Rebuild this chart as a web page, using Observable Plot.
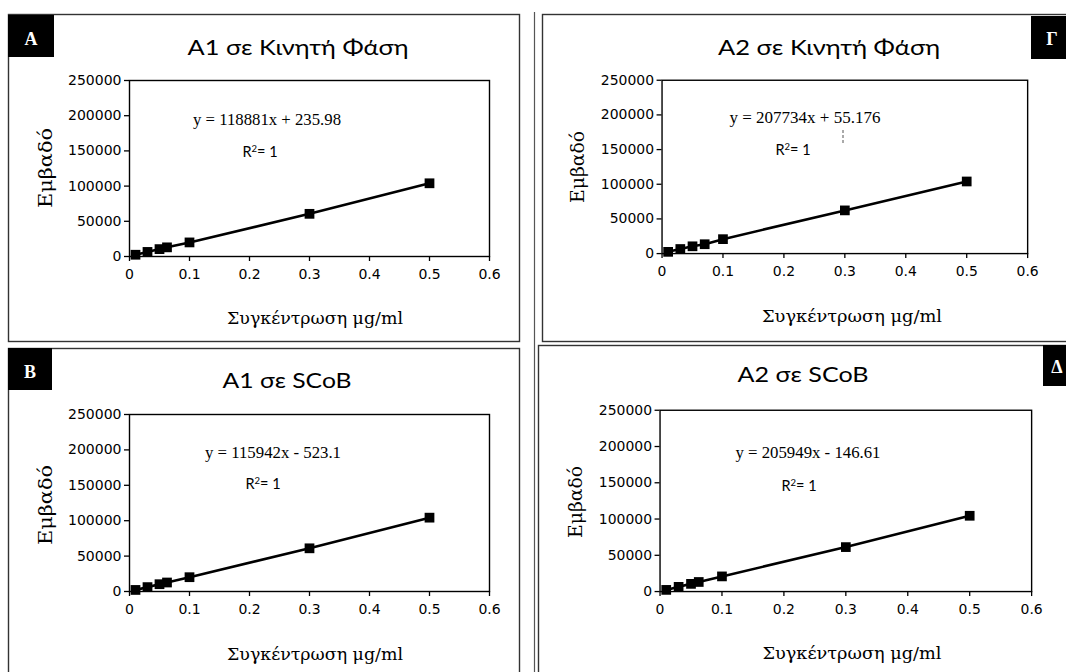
<!DOCTYPE html>
<html>
<head>
<meta charset="utf-8">
<script src="https://cdn.jsdelivr.net/npm/d3@7"></script>
<script src="https://cdn.jsdelivr.net/npm/@observablehq/plot@0.6"></script>
<style>
  html, body { margin: 0; padding: 0; background: #fff; }
  #page { position: relative; width: 1066px; height: 672px; overflow: hidden; background: #fff; }
  .plotwrap { position: absolute; }
  .plotwrap svg { overflow: visible; }
  #overlay { position: absolute; left: 0; top: 0; pointer-events: none; }
</style>
</head>
<body>
<div id="page"></div>
<script>
// ---------------- data ----------------
const concA1 = [0.01, 0.03, 0.05, 0.0625, 0.1, 0.3, 0.5];
const concA2Kin = [0.01, 0.03, 0.05, 0.07, 0.1, 0.3, 0.5];
const concA2SCoB = [0.01, 0.03, 0.05, 0.0625, 0.1, 0.3, 0.5];

const areaA1Kin  = [2500, 6500, 10500, 13000, 20000, 60600, 104000];
const areaA2Kin  = [2500, 6600, 10500, 13500, 20800, 62300, 104000];
const areaA1SCoB = [2200, 6200, 10300, 12700, 20200, 61000, 104300];
const areaA2SCoB = [2300, 6500, 10600, 13200, 20900, 61300, 104500];

const xTicks = [0, 0.1, 0.2, 0.3, 0.4, 0.5, 0.6];
const yTicks = [0, 50000, 100000, 150000, 200000, 250000];

const titles = ["A1 σε Κινητή Φάση", "A2 σε Κινητή Φάση", "A1 σε SCoB", "A2 σε SCoB"];
const letters = ["A", "Γ", "B", "Δ"];
const equations = ["y = 118881x + 235.98", "y = 207734x + 55.176", "y = 115942x - 523.1", "y = 205949x - 146.61"];
const xTitle = "Συγκέντρωση μg/ml";
const yTitle = "Εμβαδό";

// ---------------- layout (pixels) ----------------
const layout = [
  { box: [8, 14, 520, 342],  plot: [129, 80, 489, 256],
    title: [298, 55, 221], letterBox: [8, 15, 54, 57], letterPos: [31, 45],
    eq: [267, 125, 148], r2: [260, 157], xt: [315, 324, 176], yt: [52, 168, 80] },
  { box: [542, 14, 1068, 342], plot: [662, 80, 1029, 254],
    title: [829, 55, 222], letterBox: [1031, 16, 1068, 59], letterPos: [1052, 45],
    eq: [805, 123, 151], r2: [793, 155], xt: [852, 322, 180], yt: [584, 167, 72] },
  { box: [8, 348, 520, 674],  plot: [129, 414, 489, 591],
    title: [287, 388, 129], letterBox: [8, 348, 52, 390], letterPos: [30, 378],
    eq: [273, 458, 136], r2: [263, 489], xt: [315, 660, 176], yt: [52, 505, 80] },
  { box: [538, 345, 1068, 674], plot: [660, 410, 1033, 592],
    title: [803, 382, 131], letterBox: [1043, 345, 1068, 386], letterPos: [1057, 373],
    eq: [808, 458, 145], r2: [799, 491], xt: [852, 659, 179], yt: [582, 502, 72] }
];

const series = [
  { x: concA1, y: areaA1Kin },
  { x: concA2Kin, y: areaA2Kin },
  { x: concA1, y: areaA1SCoB },
  { x: concA2SCoB, y: areaA2SCoB }
];

const page = document.getElementById("page");
const fmt = d => String(d);
const tickFont = "'DejaVu Sans', sans-serif";
const serifGreek = "'DejaVu Serif', serif";

series.forEach((s, i) => {
  const L = layout[i];
  const [bx0, by0, bx1, by1] = L.box;
  const [px0, py0, px1, py1] = L.plot;
  const data = s.x.map((x, k) => ({ x, y: s.y[k] }));
  const chart = Plot.plot({
    width: bx1 - bx0,
    height: by1 - by0,
    marginLeft: px0 - bx0,
    marginRight: bx1 - px1,
    marginTop: py0 - by0,
    marginBottom: by1 - py1,
    style: { fontFamily: tickFont, fontSize: "14px", color: "#000", background: "transparent", overflow: "visible" },
    x: { domain: [0, 0.6] },
    y: { domain: [0, 250000] },
    marks: [
      Plot.axisX({ ticks: xTicks, tickFormat: fmt, tickSize: 5, tickPadding: 8, label: null,
        stroke: "#000", strokeWidth: 1.3, fontSize: 14, fontFamily: tickFont, fill: "#000" }),
      Plot.axisY({ ticks: yTicks, tickFormat: fmt, tickSize: 5, tickPadding: 3, label: null,
        stroke: "#000", strokeWidth: 1.3, fontSize: 14, fontFamily: tickFont, fill: "#000" }),
      Plot.frame({ stroke: "#000", strokeWidth: 1.4 }),
      Plot.line(data, { x: "x", y: "y", stroke: "#000", strokeWidth: 2.6 }),
      Plot.dot(data, { x: "x", y: "y", symbol: "square", r: 5.5, fill: "#000", stroke: "none" })
    ]
  });
  const wrap = document.createElement("div");
  wrap.className = "plotwrap";
  wrap.style.left = bx0 + "px";
  wrap.style.top = by0 + "px";
  wrap.appendChild(chart);
  page.appendChild(wrap);
});

// ---------------- overlay: panel frames, titles, labels, annotations ----------------
const svg = d3.create("svg")
  .attr("id", "overlay")
  .attr("width", 1066).attr("height", 672)
  .attr("viewBox", "0 0 1066 672");

svg.append("line").attr("x1", 534.5).attr("x2", 534.5).attr("y1", 12).attr("y2", 672)
  .attr("stroke", "#555").attr("stroke-width", 1.2);

layout.forEach((L, i) => {
  const [bx0, by0, bx1, by1] = L.box;
  svg.append("rect")
    .attr("x", bx0 + 0.5).attr("y", by0 + 0.5)
    .attr("width", bx1 - bx0 - 1).attr("height", by1 - by0 - 1)
    .attr("fill", "none").attr("stroke", "#333").attr("stroke-width", 1.4);

  const [lx0, ly0, lx1, ly1] = L.letterBox;
  svg.append("rect").attr("x", lx0).attr("y", ly0).attr("width", lx1 - lx0).attr("height", ly1 - ly0).attr("fill", "#000");
  svg.append("text").attr("x", L.letterPos[0]).attr("y", L.letterPos[1])
    .attr("text-anchor", "middle").attr("fill", "#fff")
    .attr("font-family", "'Liberation Serif', 'DejaVu Serif', serif").attr("font-weight", "bold").attr("font-size", 18)
    .text(letters[i]);

  svg.append("text").attr("x", L.title[0]).attr("y", L.title[1])
    .attr("text-anchor", "middle").attr("fill", "#000")
    .attr("font-family", "Lato, sans-serif").attr("font-size", 21)
    .attr("textLength", L.title[2]).attr("lengthAdjust", "spacingAndGlyphs")
    .text(titles[i]);

  svg.append("text").attr("x", L.eq[0]).attr("y", L.eq[1])
    .attr("text-anchor", "middle").attr("fill", "#000")
    .attr("font-family", "'Liberation Serif', serif").attr("font-size", 16.5)
    .attr("textLength", L.eq[2]).attr("lengthAdjust", "spacingAndGlyphs")
    .text(equations[i]);

  const r2 = svg.append("text").attr("x", L.r2[0]).attr("y", L.r2[1])
    .attr("text-anchor", "middle").attr("fill", "#000")
    .attr("font-family", "Lato, sans-serif").attr("font-size", 14.5);
  r2.append("tspan").text("R");
  r2.append("tspan").attr("font-size", 9.5).attr("dy", -5).text("2");
  r2.append("tspan").attr("dy", 5).text("= 1");

  svg.append("text").attr("x", L.xt[0]).attr("y", L.xt[1])
    .attr("text-anchor", "middle").attr("fill", "#000")
    .attr("font-family", serifGreek).attr("font-size", 17)
    .attr("textLength", L.xt[2]).attr("lengthAdjust", "spacingAndGlyphs")
    .text(xTitle);

  svg.append("text")
    .attr("transform", `translate(${L.yt[0]},${L.yt[1]}) rotate(-90)`)
    .attr("text-anchor", "middle").attr("fill", "#000")
    .attr("font-family", serifGreek).attr("font-size", 18)
    .attr("textLength", L.yt[2]).attr("lengthAdjust", "spacingAndGlyphs")
    .text(yTitle);
});

svg.append("line").attr("x1", 843).attr("x2", 843).attr("y1", 130).attr("y2", 143)
  .attr("stroke", "#555").attr("stroke-width", 1).attr("stroke-dasharray", "3,2");

page.appendChild(svg.node());
</script>
</body>
</html>
